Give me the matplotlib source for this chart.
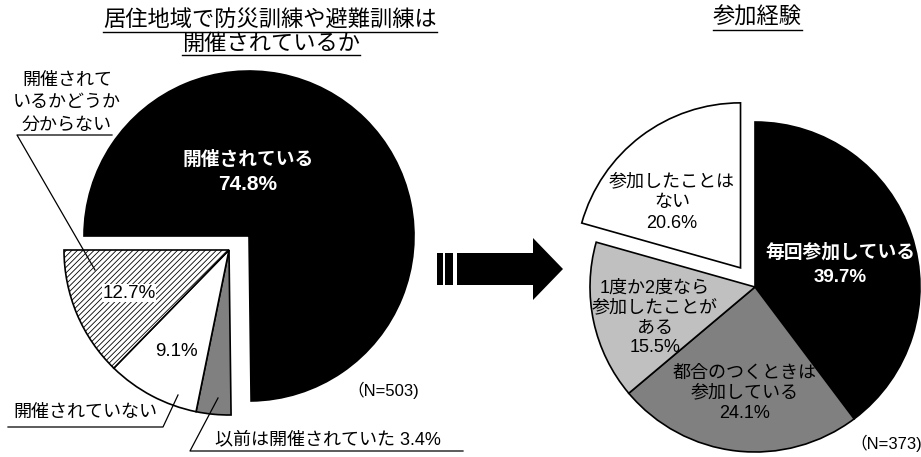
import numpy as np
import matplotlib.pyplot as plt
import matplotlib.patches as mpatches

plt.rcParams['font.family'] = ['Liberation Sans', 'Noto Sans CJK JP']
plt.rcParams['hatch.linewidth'] = 0.6

# 居住地域で防災訓練や避難訓練は開催されているか
kaisai_labels = ['開催されている', '以前は開催されていた', '開催されていない',
                 '開催されて\nいるかどうか\n分からない']
kaisai_vals = [74.8, 3.4, 9.1, 12.7]
kaisai_colors = ['black', '#808080', 'white', 'white']
kaisai_n = 503

# 参加経験
sanka_labels = ['毎回参加している', '都合のつくときは\n参加している',
                '1度か2度なら\n参加したことが\nある', '参加したことは\nない']
sanka_vals = [39.7, 24.1, 15.5, 20.6]
sanka_colors = ['black', '#808080', '#c0c0c0', 'white']
sanka_n = 373

W, H = 921, 457


def Y(y):
    # 画像の上からのピクセル位置 -> データ座標
    return H - y


def pct(v):
    return f'{v:.1f}%'


def lines(ax, x, y0, dy, text, sizes=None, **kw):
    for i, s in enumerate(text.split('\n')):
        extra = {} if sizes is None else {'fontsize': sizes[i]}
        ax.text(x, Y(y0 + i * dy), s, ha='center', va='center', **kw, **extra)


fig = plt.figure(figsize=(W / 100, H / 100), dpi=100)
ax = fig.add_axes([0, 0, 1, 1])

edge = dict(edgecolor='black', linewidth=1.2)
fs = 13

# 左の円グラフ
wl, _ = ax.pie(kaisai_vals, colors=kaisai_colors, startangle=180, counterclock=False,
               center=(229, Y(250)), radius=165, frame=True, wedgeprops=edge)
wl[0].set_center((249, Y(236)))
wl[3].set_hatch('//////')

# 右の円グラフ
wr, _ = ax.pie(sanka_vals, colors=sanka_colors, startangle=90, counterclock=False,
               center=(755, Y(287)), radius=165, frame=True, wedgeprops=edge)
w = wr[3]
mid = np.deg2rad((w.theta1 + w.theta2) / 2)
w.set_center((755 + 24 * np.cos(mid), Y(287) + 24 * np.sin(mid)))

ax.set_xlim(0, W)
ax.set_ylim(0, H)
ax.set_aspect('equal')
ax.axis('off')

# 矢印
ax.add_patch(mpatches.Polygon([(457, Y(253)), (533, Y(253)), (533, Y(238)), (563, Y(269)),
                               (533, Y(300)), (533, Y(285)), (457, Y(285))],
                              closed=True, facecolor='black', edgecolor='none'))
for x0, x1 in [(437, 443), (445, 453)]:
    ax.add_patch(mpatches.Rectangle((x0, Y(285)), x1 - x0, 32, facecolor='black', edgecolor='none'))

# タイトル
titles = []
titles.append(ax.text(270, Y(21), '居住地域で防災訓練や避難訓練は', ha='center', va='center',
                      fontsize=16))
titles.append(ax.text(271, Y(44), '開催されているか', ha='center', va='center',
                      fontsize=16))
titles.append(ax.text(757, Y(18), '参加経験', ha='center', va='center',
                      fontsize=16))

# 左のラベル
lines(ax, 248, 160, 25, kaisai_labels[0] + '\n' + pct(kaisai_vals[0]), sizes=[13.5, 15],
      color='white', fontweight='bold')
lines(ax, 67, 80, 22.5, kaisai_labels[3], fontsize=fs)
ax.text(129, Y(293), pct(kaisai_vals[3]), ha='center', va='center', fontsize=13.5,
        bbox=dict(facecolor='white', edgecolor='none', pad=0.3))
ax.text(176, Y(352), pct(kaisai_vals[2]), ha='center', va='center', fontsize=13.5)
ax.text(85, Y(412), kaisai_labels[2], ha='center', va='center', fontsize=fs)
ax.text(328, Y(440), kaisai_labels[1] + ' ' + pct(kaisai_vals[1]), ha='center', va='center',
        fontsize=fs)
ax.text(383, Y(390), f'（N={kaisai_n})', ha='center', va='center', fontsize=12)

lk = dict(color='black', linewidth=0.9)
ax.plot([112, 17, 95], [Y(135), Y(135), Y(270)], **lk)
ax.plot([8, 163, 178], [Y(427), Y(427), Y(395)], **lk)
ax.plot([463, 190, 218], [Y(451), Y(451), Y(398)], **lk)

# 右のラベル
lines(ax, 840, 252, 26, sanka_labels[0] + '\n' + pct(sanka_vals[0]), sizes=[13.5, 13.5],
      color='white', fontweight='bold')
lines(ax, 745, 373, 20, sanka_labels[1] + '\n' + pct(sanka_vals[1]), fontsize=fs)
lines(ax, 655, 288, 20, sanka_labels[2] + '\n' + pct(sanka_vals[2]), fontsize=fs)
lines(ax, 672, 182, 21, sanka_labels[3] + '\n' + pct(sanka_vals[3]), fontsize=fs)
ax.text(886, Y(443), f'（N={sanka_n})', ha='center', va='center', fontsize=12)

# タイトルの下線
fig.canvas.draw()
inv = ax.transData.inverted()
for t, yl in zip(titles, [32, 55, 30]):
    bb = t.get_window_extent()
    x0 = inv.transform((bb.x0, 0))[0]
    x1 = inv.transform((bb.x1, 0))[0]
    ax.plot([x0, x1], [Y(yl), Y(yl)], color='black', linewidth=1.0)

fig.savefig('out.png', dpi=100, facecolor='white')
